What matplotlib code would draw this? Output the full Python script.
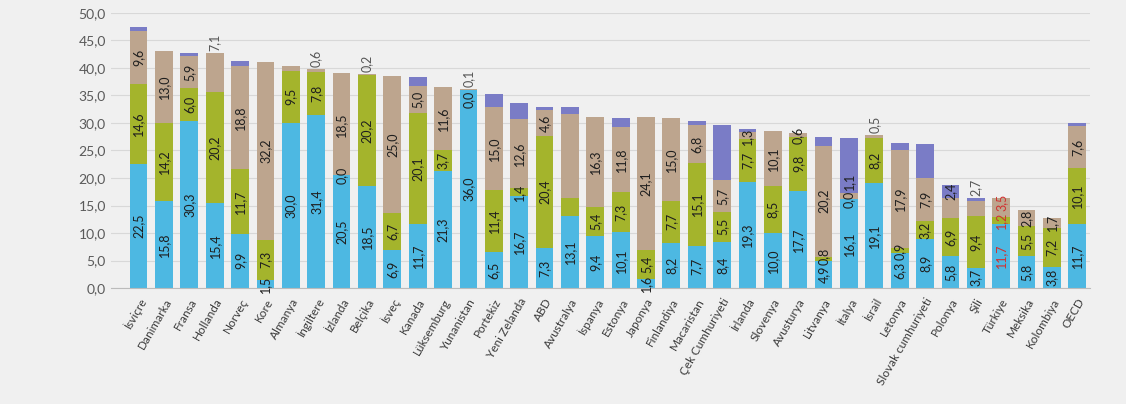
import matplotlib.pyplot as plt
import numpy as np

# Ülkeler ve seriler (soldan sağa)
countries = ['İsviçre', 'Danimarka', 'Fransa', 'Hollanda', 'Norveç', 'Kore', 'Almanya',
             'İngiltere', 'İzlanda', 'Belçika', 'İsveç', 'Kanada', 'Lüksemburg',
             'Yunanistan', 'Portekiz', 'Yeni Zelanda', 'ABD', 'Avustralya', 'İspanya',
             'Estonya', 'Japonya', 'Finlandiya', 'Macaristan', 'Çek Cumhuriyeti',
             'İrlanda', 'Slovenya', 'Avusturya', 'Litvanya', 'İtalya', 'İsrail',
             'Letonya', 'Slovak cumhuriyeti', 'Polonya', 'Şili', 'Türkiye', 'Meksika',
             'Kolombiya', 'OECD']

blue = [22.5, 15.8, 30.3, 15.4, 9.9, 1.5, 30.0, 31.4, 20.5, 18.5, 6.9, 11.7, 21.3,
        36.0, 6.5, 16.7, 7.3, 13.1, 9.4, 10.1, 1.6, 8.2, 7.7, 8.4, 19.3, 10.0, 17.7,
        4.9, 16.1, 19.1, 6.3, 8.9, 5.8, 3.7, 11.7, 5.8, 3.8, 11.7]
green = [14.6, 14.2, 6.0, 20.2, 11.7, 7.3, 9.5, 7.8, 0.0, 20.2, 6.7, 20.1, 3.7,
         0.0, 11.4, 1.4, 20.4, 3.3, 5.4, 7.3, 5.4, 7.7, 15.1, 5.5, 7.7, 8.5, 9.8,
         0.8, 0.0, 8.2, 0.9, 3.2, 6.9, 9.4, 1.2, 5.5, 7.2, 10.1]
tan = [9.6, 13.0, 5.9, 7.1, 18.8, 32.2, 0.9, 0.6, 18.5, 0.2, 25.0, 5.0, 11.6,
       0.1, 15.0, 12.6, 4.6, 15.3, 16.3, 11.8, 24.1, 15.0, 6.8, 5.7, 1.3, 10.1, 0.6,
       20.2, 1.1, 0.5, 17.9, 7.9, 3.6, 2.7, 3.5, 2.8, 1.7, 7.6]
purple = [0.8, 0.0, 0.6, 0.0, 0.8, 0.0, 0.0, 0.0, 0.0, 0.0, 0.0, 1.6, 0.0,
          0.0, 2.4, 2.9, 0.6, 1.2, 0.0, 1.7, 0.0, 0.0, 0.8, 10.0, 0.6, 0.0, 0.0,
          1.6, 10.1, 0.0, 1.2, 6.2, 2.4, 0.6, 0.0, 0.0, 0.0, 0.6]

series = [blue, green, tan, purple]
colors = ['#4db8e2', '#a4b42c', '#bda58e', '#7a7cc6']

# etiket gösterilmeyen dilimler (seri no, ülke)
hidden = {(1, 'Avustralya'), (2, 'Almanya'), (2, 'Avustralya'), (2, 'Polonya')}
hidden |= {(3, c) for c in countries if c != 'Polonya'}
# sütun üstüne yazılan etiketler
outside = {(2, 'Hollanda'), (2, 'İngiltere'), (2, 'Belçika'), (2, 'Yunanistan'),
           (2, 'İsrail'), (2, 'Şili')}

plt.rcParams['font.family'] = ['Lato', 'DejaVu Sans']

fig = plt.figure(figsize=(11.26, 4.04), dpi=100, facecolor='#f0f0f0')
ax = fig.add_axes([0.099, 0.287, 0.869, 0.681])
ax.set_facecolor('#f0f0f0')

x = np.arange(len(countries))
bottom = np.zeros(len(countries))
for vals, col in zip(series, colors):
    ax.bar(x, vals, 0.7, bottom=bottom, color=col, zorder=2)
    bottom += np.array(vals)

totals = bottom
for i, c in enumerate(countries):
    base = 0.0
    prev_top = -99
    txt_col = '#d03030' if c == 'Türkiye' else '#1e1e1e'
    for s, vals in enumerate(series):
        v = vals[i]
        if (s, c) in hidden:
            base += v
            continue
        lab = f'{v:.1f}'.replace('.', ',')
        h = 1.1 * len(lab)
        if (s, c) in outside:
            y0 = max(totals[i] + 0.4, prev_top + 0.3)
            ax.text(i, y0, lab, rotation=90, ha='center', va='bottom',
                    fontsize=9, color='#555555', zorder=3)
        else:
            yc = base + v / 2
            # en üstteki sıfır dilimin etiketini sütunun içine al
            if v == 0 and abs(base - totals[i]) < 0.5:
                yc = totals[i] - h / 2 - 0.2
            if yc - h / 2 < prev_top:
                yc = prev_top + h / 2
            prev_top = yc + h / 2
            ax.text(i, yc, lab, rotation=90, ha='center', va='center',
                    fontsize=9, color=txt_col, zorder=3)
        base += v

ax.set_xlim(-1.07, 37.5)
ax.set_ylim(0, 50)
ax.set_yticks(np.arange(0, 51, 5))
ax.set_yticklabels([f'{t:.1f}'.replace('.', ',') for t in np.arange(0, 51, 5)],
                   fontsize=10, color='#5a5a5a')
ax.yaxis.grid(True, color='#d8d8d8', lw=0.8, zorder=0)
ax.set_xticks(x)
ax.set_xticklabels(countries, rotation=60, ha='right', rotation_mode='anchor',
                   fontsize=8.5, color='#3a3a3a')
ax.tick_params(length=0, pad=4)
ax.tick_params(axis='x', pad=6)
for sp in ['top', 'right', 'left']:
    ax.spines[sp].set_visible(False)
ax.spines['bottom'].set_color('#bbbbbb')

plt.savefig('out.png', dpi=100, facecolor=fig.get_facecolor())
